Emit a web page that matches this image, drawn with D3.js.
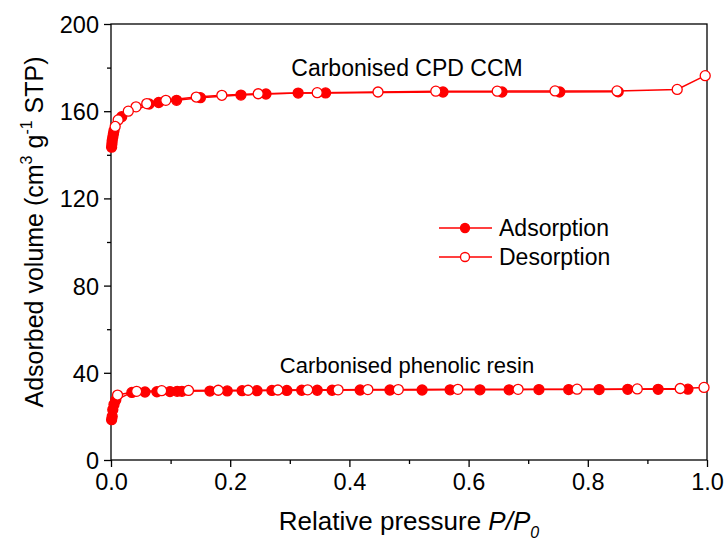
<!DOCTYPE html>
<html>
<head>
<meta charset="utf-8">
<script src="https://cdn.jsdelivr.net/npm/d3@7"></script>
<style>
  body { margin: 0; background: #fff; }
  text { font-family: Arial, "Liberation Sans", sans-serif; fill: #000; }
</style>
</head>
<body>
<script>
//-----------------Data----------------

// Carbonised CPD CCM
const cpdAdsP = [0.001, 0.0015, 0.002, 0.003, 0.004, 0.005, 0.018, 0.064, 0.08, 0.11, 0.15, 0.218, 0.26, 0.314, 0.36, 0.557, 0.656, 0.753, 0.851];
const cpdAdsV = [143.5, 145, 146.5, 148, 149.5, 151, 157.5, 163.3, 164, 165, 166.2, 167.4, 167.9, 168.3, 168.4, 168.8, 168.8, 168.8, 168.9];
const cpdDesP = [0.997, 0.95, 0.849, 0.745, 0.648, 0.545, 0.448, 0.346, 0.247, 0.186, 0.143, 0.092, 0.06, 0.042, 0.029, 0.012, 0.007];
const cpdDesV = [176.3, 170, 169.3, 169.3, 169.2, 169.2, 168.8, 168.5, 168, 167.3, 166.5, 165, 163.5, 162, 160, 156, 153];

// Carbonised phenolic resin
const resinAdsP = [0.001, 0.002, 0.003, 0.005, 0.008, 0.035, 0.057, 0.077, 0.099, 0.111, 0.119, 0.166, 0.195, 0.22, 0.245, 0.27, 0.295, 0.32, 0.346, 0.371, 0.418, 0.468, 0.522, 0.569, 0.619, 0.668, 0.718, 0.768, 0.819, 0.867, 0.918, 0.968];
const resinAdsV = [18.5, 20, 23, 25.5, 27.5, 31.0, 31.2, 31.3, 31.4, 31.5, 31.5, 31.6, 31.7, 31.8, 31.8, 31.9, 31.9, 32.0, 32.0, 32.0, 32.1, 32.1, 32.1, 32.2, 32.2, 32.2, 32.3, 32.3, 32.3, 32.4, 32.4, 32.5];
const resinDesP = [0.995, 0.955, 0.883, 0.782, 0.683, 0.582, 0.482, 0.431, 0.381, 0.33, 0.28, 0.23, 0.18, 0.13, 0.085, 0.043, 0.011];
const resinDesV = [33.3, 32.8, 32.6, 32.5, 32.4, 32.4, 32.3, 32.3, 32.2, 32.2, 32.1, 32.0, 32.0, 31.9, 31.8, 31.5, 29.8];

const xTicks = [0, 0.2, 0.4, 0.6, 0.8, 1.0];
const xMinorTicks = [0.1, 0.3, 0.5, 0.7, 0.9];
const yTicks = [0, 40, 80, 120, 160, 200];
const yMinorTicks = [20, 60, 100, 140, 180];

//-----------------Svg----------------

const width = 727;
const height = 550;
const margin = { left: 111, right: 20, top: 24, bottom: 90 };
const red = "#ff0000";

const svg = d3.select("body").append("svg").attr("width", width).attr("height", height);

const xScale = d3.scaleLinear().domain([0, 1]).range([margin.left, width - margin.right]);
const yScale = d3.scaleLinear().domain([0, 200]).range([height - margin.bottom, margin.top]);

//-----------------Axes----------------

const xAxis = d3.axisBottom(xScale).tickValues(xTicks).tickSize(7).tickPadding(6).tickFormat(d3.format(".1f"));
const yAxis = d3.axisLeft(yScale).tickValues(yTicks).tickSize(7).tickPadding(5).tickFormat(d3.format("d"));

const gx = svg.append("g").attr("transform", "translate(0," + yScale(0) + ")").call(xAxis);
const gy = svg.append("g").attr("transform", "translate(" + xScale(0) + ",0)").call(yAxis);

svg.append("g").attr("transform", "translate(0," + yScale(0) + ")")
  .call(d3.axisBottom(xScale).tickValues(xMinorTicks).tickSize(4).tickFormat(""));
svg.append("g").attr("transform", "translate(" + xScale(0) + ",0)")
  .call(d3.axisLeft(yScale).tickValues(yMinorTicks).tickSize(4).tickFormat(""));

svg.selectAll(".domain").remove();
svg.selectAll(".tick line").attr("stroke", "#000").attr("stroke-width", 1.3);
[gx, gy].forEach((g) => g.selectAll("text").style("font-size", "23.5px").style("font-family", "Arial, 'Liberation Sans', sans-serif").attr("fill", "#000"));
gy.selectAll("text").attr("dy", "0.36em");

// frame
svg.append("rect")
  .attr("x", xScale(0))
  .attr("y", yScale(200))
  .attr("width", xScale(1) - xScale(0))
  .attr("height", yScale(0) - yScale(200))
  .attr("fill", "none")
  .attr("stroke", "#000")
  .attr("stroke-width", 1.3);

//-----------------Series----------------

const line = d3.line().x((d) => xScale(d[0])).y((d) => yScale(d[1]));
const series = [
  { p: cpdAdsP, v: cpdAdsV, open: false },
  { p: resinAdsP, v: resinAdsV, open: false },
  { p: cpdDesP, v: cpdDesV, open: true },
  { p: resinDesP, v: resinDesV, open: true },
];

series.forEach((s) => {
  const pts = d3.zip(s.p, s.v);
  svg.append("path").datum(pts).attr("d", line).attr("fill", "none").attr("stroke", red).attr("stroke-width", 1.5);
});

series.forEach((s) => {
  const pts = d3.zip(s.p, s.v);
  svg.append("g").selectAll("circle").data(pts).enter().append("circle")
    .attr("cx", (d) => xScale(d[0]))
    .attr("cy", (d) => yScale(d[1]))
    .attr("r", 5)
    .attr("fill", s.open ? "#fff" : red)
    .attr("stroke", red)
    .attr("stroke-width", 1.3);
});

//-----------------Labels----------------

svg.append("text").attr("x", 407).attr("y", 76).attr("text-anchor", "middle").style("font-size", "23px").text("Carbonised CPD CCM");
svg.append("text").attr("x", 407).attr("y", 373).attr("text-anchor", "middle").style("font-size", "22px").text("Carbonised phenolic resin");

// legend
const legendItems = [{ name: "Adsorption", open: false, y: 228 }, { name: "Desorption", open: true, y: 257 }];
legendItems.forEach((it) => {
  svg.append("line").attr("x1", 439).attr("x2", 492).attr("y1", it.y).attr("y2", it.y).attr("stroke", red).attr("stroke-width", 1.5);
  svg.append("circle").attr("cx", 465).attr("cy", it.y).attr("r", 4.5).attr("fill", it.open ? "#fff" : red).attr("stroke", red).attr("stroke-width", 1.3);
  svg.append("text").attr("x", 499).attr("y", it.y + 8).style("font-size", "23px").text(it.name);
});

// x title
const xt = svg.append("text").attr("x", 409).attr("y", 530).attr("text-anchor", "middle").style("font-size", "26px");
xt.append("tspan").text("Relative pressure ");
xt.append("tspan").style("font-style", "italic").text("P/P");
xt.append("tspan").style("font-style", "italic").style("font-size", "16px").attr("dy", 8).text("0");

// y title
const yt = svg.append("text").attr("transform", "translate(43,232) rotate(-90)").attr("text-anchor", "middle").style("font-size", "25px");
yt.append("tspan").text("Adsorbed volume (cm");
yt.append("tspan").style("font-size", "16px").attr("dy", -11).text("3");
yt.append("tspan").attr("dy", 11).text(" g");
yt.append("tspan").style("font-size", "16px").attr("dy", -11).text("-1");
yt.append("tspan").attr("dy", 11).text(" STP)");
</script>
</body>
</html>
